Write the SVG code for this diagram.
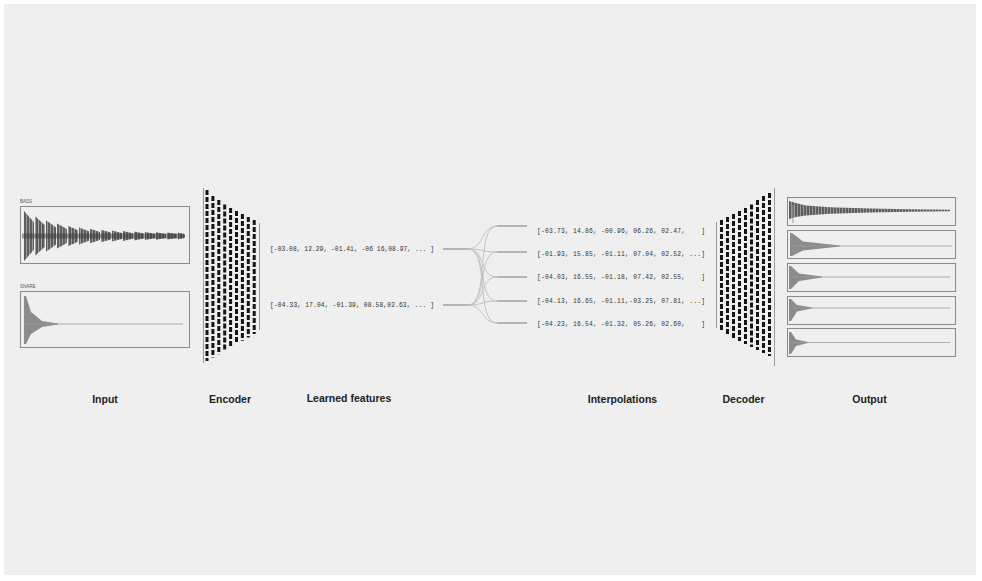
<svg xmlns="http://www.w3.org/2000/svg" width="982" height="581" viewBox="0 0 982 581">
<defs>
<pattern id="stripes" x="0" y="0" width="3" height="4" patternUnits="userSpaceOnUse">
<rect x="0" y="0" width="3" height="4" fill="#5e5e5e"/>
<rect x="2" y="0" width="1" height="4" fill="#9a9a9a"/>
</pattern>
</defs>
<style>
.box{fill:none;stroke:#8a8a8a;stroke-width:1}
.wave{fill:url(#stripes)}
.lwave{fill:#8c8c8c}
.flat{stroke:#9a9a9a;stroke-width:0.8;fill:none}
.col{stroke:#151515;stroke-width:3;stroke-dasharray:5 2}
.rail{stroke:#9a9a9a;stroke-width:1}
.vec{font-family:"Liberation Mono",monospace;font-size:6.3px;fill:#333;white-space:pre}
.tiny{font-family:"Liberation Sans",Arial,sans-serif;font-size:4.5px;fill:#555}
.lbl{font-family:"Liberation Sans",Arial,sans-serif;font-size:10.5px;font-weight:bold;fill:#222;text-anchor:middle}
.conn{stroke:#c2c2c2;stroke-width:1;fill:none}
.stub{stroke:#7a7a7a;stroke-width:1;fill:none}
</style>
<rect x="0" y="0" width="982" height="581" fill="#ffffff"/>
<rect x="4" y="4" width="972" height="571" fill="#efefef"/>

<g id="input">
<text class="tiny" x="20" y="203">BASS</text>
<rect class="box" x="20.5" y="206.5" width="169" height="57"/>
<g class="wave">
<path d="M24 211 L34 222.2 L34 249.8 L24 261Z"/>
<path d="M35 216.3 L45 225.2 L45 246.8 L35 255.7Z"/>
<path d="M46 220.3 L56 227.4 L56 244.6 L46 251.7Z"/>
<path d="M57 223.4 L67 229.1 L67 242.9 L57 248.6Z"/>
<path d="M68 225.7 L78 230.3 L78 241.7 L68 246.3Z"/>
<path d="M79 227.4 L89 231.3 L89 240.7 L79 244.6Z"/>
<path d="M90 228.8 L100 232 L100 240 L90 243.2Z"/>
<path d="M101 229.8 L111 232.6 L111 239.4 L101 242.2Z"/>
<path d="M112 230.6 L122 233 L122 239 L112 241.4Z"/>
<path d="M123 231.1 L133 233.3 L133 238.7 L123 240.9Z"/>
<path d="M134 231.6 L144 233.6 L144 238.4 L134 240.4Z"/>
<path d="M145 231.9 L155 233.7 L155 238.3 L145 240.1Z"/>
<path d="M156 232.2 L166 233.9 L166 238.1 L156 239.8Z"/>
<path d="M167 232.4 L177 234 L177 238 L167 239.6Z"/>
<path d="M178 232.5 L185 234.5 L185 237.5 L178 239.5Z"/>
</g>
<path d="M22 233.5 H184 V238.5 H22Z" fill="#333" opacity="0.45"/>
<text class="tiny" x="20" y="288">SNARE</text>
<rect class="box" x="20.5" y="291.5" width="169" height="56"/>
<path class="lwave" d="M24 296 L26 296 L31 312 L42 321 L58 323.4 L58 324.6 L42 327 L31 334 L26 344 L24 344Z"/>
<path class="flat" d="M24 324 H183"/>
</g>

<g id="encoder">
<path class="rail" d="M203.5 188 V363"/>
<path class="rail" d="M259.5 223 V330"/>
<path class="col" d="M207 190 V361"/>
<path class="col" d="M212.9 196 V357.6"/>
<path class="col" d="M218.8 200 V354.2"/>
<path class="col" d="M224.7 204.5 V350.9"/>
<path class="col" d="M230.6 208 V347.5"/>
<path class="col" d="M236.5 211 V344.1"/>
<path class="col" d="M242.4 214 V340.8"/>
<path class="col" d="M248.3 217 V337.4"/>
<path class="col" d="M254.2 220 V334"/>
</g>

<g id="learned-features">
<text class="vec" x="270" y="250.5" textLength="164">[-03.08, 12.29, -01.41, -06 16,08.97, ... ]</text>
<text class="vec" x="270" y="307" textLength="164">[-04.33, 17.04, -01.39, 08.58,02.63, ... ]</text>
<path class="stub" d="M443 249 H468"/>
<path class="stub" d="M443 305 H468"/>
</g>

<g id="connectors">
<path class="conn" d="M468 249 C484 249, 481 226, 497 226"/>
<path class="conn" d="M468 249 C484 249, 481 252, 497 252"/>
<path class="conn" d="M468 249 C486 249, 479 277, 497 277"/>
<path class="conn" d="M468 249 C488 249, 477 301, 497 301"/>
<path class="conn" d="M468 249 C490 249, 475 323, 497 323"/>
<path class="conn" d="M468 305 C490 305, 475 226, 497 226"/>
<path class="conn" d="M468 305 C488 305, 477 252, 497 252"/>
<path class="conn" d="M468 305 C486 305, 479 277, 497 277"/>
<path class="conn" d="M468 305 C484 305, 481 301, 497 301"/>
<path class="conn" d="M468 305 C484 305, 481 323, 497 323"/>
<path class="stub" d="M497 226 H527"/>
<path class="stub" d="M497 252 H527"/>
<path class="stub" d="M497 277 H527"/>
<path class="stub" d="M497 301 H527"/>
<path class="stub" d="M497 323 H527"/>
</g>

<g id="interpolations">
<text class="vec" x="537" y="232.5" textLength="168">[-03.73, 14.86, -00.96, 06.26, 02.47,    ]</text>
<text class="vec" x="537" y="255.5" textLength="168">[-01.93, 15.85, -01.11, 07.04, 02.52, ...]</text>
<text class="vec" x="537" y="279" textLength="168">[-04.03, 16.55, -01.18, 07.42, 02.55,    ]</text>
<text class="vec" x="537" y="302.5" textLength="168">[-04.13, 16.65, -01.11,-03.25, 07.81, ...]</text>
<text class="vec" x="537" y="326" textLength="168">[-04.23, 16.54, -01.32, 05.26, 02.60,    ]</text>
</g>

<g id="decoder">
<path class="rail" d="M716.5 222 V328"/>
<path class="rail" d="M774.5 188 V366"/>
<path class="col" d="M721.5 220 V332"/>
<path class="col" d="M727.5 217 V335"/>
<path class="col" d="M733.5 214 V338"/>
<path class="col" d="M739.5 211 V341"/>
<path class="col" d="M745.5 208 V344"/>
<path class="col" d="M751.5 204.5 V347"/>
<path class="col" d="M757.5 200 V350"/>
<path class="col" d="M763.5 196 V353"/>
<path class="col" d="M769.5 193 V356"/>
</g>

<g id="output">
<rect class="box" x="787.5" y="197.5" width="168" height="28"/>
<path class="wave" d="M789 201 L796 203 L806 205.5 L830 207.2 L870 208.4 L910 209.3 L950 209.8 L950 211.2 L910 211.7 L870 212.6 L830 213.8 L806 215.5 L796 217 L789 219Z"/>
<path class="rail" d="M793 205 V223"/>
<rect class="box" x="787.5" y="230.5" width="168" height="28"/>
<path class="lwave" d="M790 233 L792 233 L803 241.5 L840 245.4 L840 246.6 L803 250.5 L792 256 L790 256Z"/>
<path class="flat" d="M790 246 H952"/>
<rect class="box" x="787.5" y="263.5" width="168" height="28"/>
<path class="lwave" d="M789 266 L791 266 L799 273.5 L822 276.5 L822 277.5 L799 281 L791 289 L789 289Z"/>
<path class="flat" d="M789 277 H950"/>
<rect class="box" x="787.5" y="296.5" width="168" height="28"/>
<path class="lwave" d="M789 299 L791 299 L797 305 L812 307.5 L812 308.5 L797 311.5 L791 321 L789 321Z"/>
<path class="flat" d="M789 308 H950"/>
<rect class="box" x="787.5" y="328.5" width="168" height="28"/>
<path class="lwave" d="M789 332 L791 332 L796 339.5 L808 342 L808 343 L796 346 L791 354 L789 354Z"/>
<path class="flat" d="M789 342.5 H950"/>
</g>

<g id="labels">
<text class="lbl" x="105" y="403">Input</text>
<text class="lbl" x="230" y="403">Encoder</text>
<text class="lbl" x="349" y="402">Learned features</text>
<text class="lbl" x="622.5" y="403">Interpolations</text>
<text class="lbl" x="743.5" y="403">Decoder</text>
<text class="lbl" x="869.5" y="403">Output</text>
</g>
</svg>
